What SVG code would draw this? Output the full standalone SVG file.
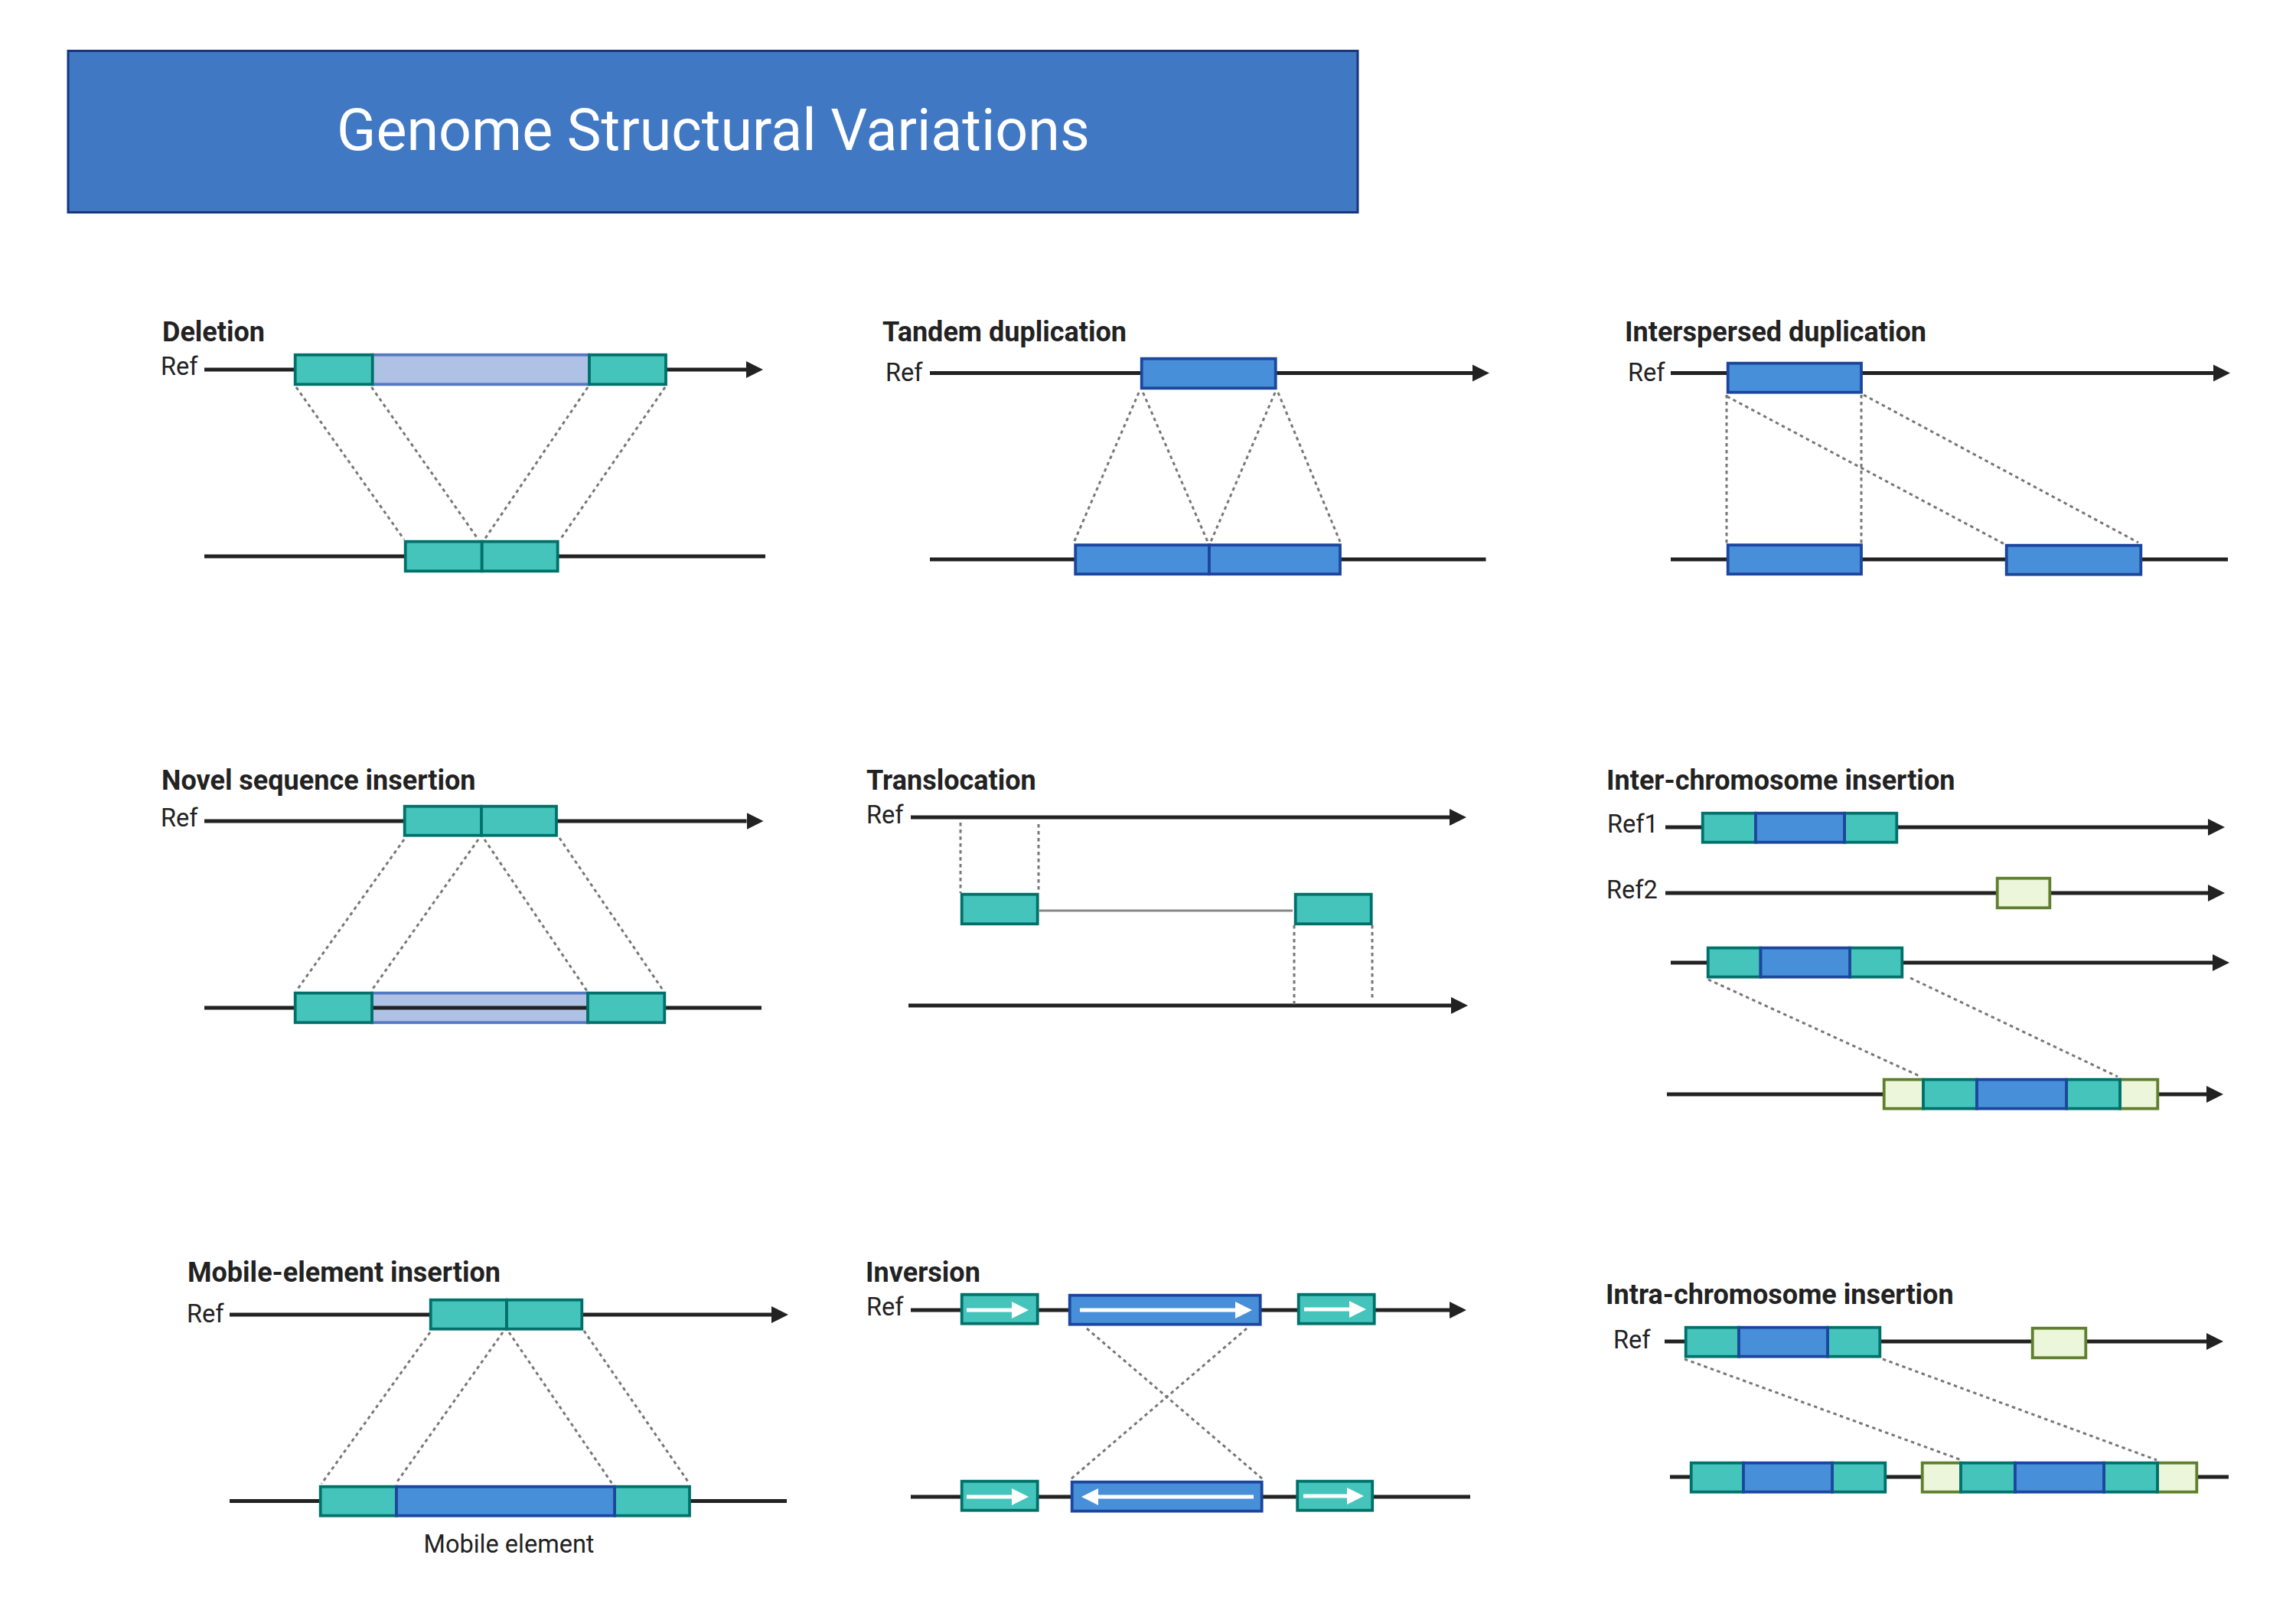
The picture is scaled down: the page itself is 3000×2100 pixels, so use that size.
<svg xmlns="http://www.w3.org/2000/svg" width="3000" height="2100" viewBox="0 0 3000 2100">
<style>
text{font-family:Roboto,"Liberation Sans",sans-serif;fill:#222}
.t{font-size:36px;font-weight:700}
.r{font-size:32.500px}
.l{stroke:#222;stroke-width:5;fill:none}
.a{marker-end:url(#ah)}
.d{stroke:#777;stroke-width:3;stroke-dasharray:4.500 4.500;fill:none}
.th{stroke:#888;stroke-width:2.800;fill:none}
rect{stroke-width:3.800}
.te{fill:#45c4bb;stroke:#00716a}
.bl{fill:#478fd8;stroke:#1c469d}
.gr{fill:#ebf6da;stroke:#5f7f2c}
.lb{fill:#afc2e6;stroke:#5578c2}
.w{stroke:#fff;stroke-width:5;fill:none;marker-end:url(#wh)}
</style>
<defs>
<marker id="ah" markerUnits="userSpaceOnUse" markerWidth="23" markerHeight="24" refX="0" refY="12" orient="auto" viewBox="0 0 23 24"><path d="M0 1L22 12L0 23Z" fill="#222"/></marker>
<marker id="wh" markerUnits="userSpaceOnUse" markerWidth="23" markerHeight="24" refX="0" refY="12" orient="auto" viewBox="0 0 23 24"><path d="M0 1L22 12L0 23Z" fill="#fff"/></marker>
</defs>
<rect width="3000" height="2100" fill="#fff" style="stroke:none"/>
<g id="title"><rect x="89" y="66.500" width="1685" height="211" fill="#4178c3" stroke="#17357f" style="stroke-width:3"/><text x="932" y="196" text-anchor="middle" font-size="75.400" style="fill:#fff">Genome Structural Variations</text></g>
<g id="novel-insert-band"><rect class="lb" x="486" y="1297.700" width="282" height="38.600"/></g>
<g id="connectors">
<path class="l a" d="M267 483H975"/><path class="l" d="M267 727H1000"/>
<path class="d" d="M387 506L528 705M485.500 506L625 705M768 506L633 705M869 506L732 705"/>
<path class="l a" d="M1215 487.500H1924"/><path class="l" d="M1215 731H1941.500"/>
<path class="d" d="M1488 513L1403.500 708M1493.500 513L1578 708M1666 513L1582 708M1670 513L1751 708"/>
<path class="l a" d="M2183 487.500H2892"/><path class="l" d="M2183 731H2911"/>
<path class="d" d="M2256 516V710M2432 516V710M2256.500 518L2619 711M2435 516L2794 709"/>
<path class="l a" d="M267 1073H975.500"/><path class="l" d="M267 1317H995"/>
<path class="d" d="M528 1097L387 1295M625 1097L485 1295M633 1097L767 1295M731 1095L867 1295"/>
<path class="l a" d="M1190 1068H1894"/><path class="l a" d="M1187 1314H1896"/>
<path class="th" d="M1358 1190H1689"/>
<path class="d" d="M1255 1075V1167M1357 1077V1167M1691 1209V1315M1793 1209V1306"/>
<path class="l a" d="M2176 1081H2885"/><path class="l a" d="M2176 1167H2885"/><path class="l a" d="M2183 1258H2891"/><path class="l a" d="M2178 1430H2883"/>
<path class="d" d="M2232 1280L2510 1407M2496 1278L2767 1407"/>
<path class="l a" d="M300 1718H1008"/><path class="l" d="M300 1961.500H1028"/>
<path class="d" d="M562 1741L420 1939M657 1741L517 1939M665 1741L800 1939M763 1739L901 1939"/>
<path class="l a" d="M1190 1712H1894"/><path class="l" d="M1190 1956H1921"/>
<path class="d" d="M1420 1736L1650 1933M1629 1736L1399 1933"/>
<path class="l a" d="M2175 1753H2883"/><path class="l" d="M2182 1930H2912"/>
<path class="d" d="M2201 1776L2563 1908M2460 1776L2818 1908"/>
</g>
<g id="deletion"><text class="t" x="212" y="446">Deletion</text><text class="r" x="210" y="490">Ref</text>
<rect class="lb" x="486" y="463.700" width="284" height="38.600"/>
<rect class="te" x="385.700" y="463.700" width="101" height="38.600"/><rect class="te" x="770" y="463.700" width="100" height="38.600"/>
<rect class="te" x="529.700" y="707.700" width="100" height="38.600"/><rect class="te" x="629.700" y="707.700" width="99" height="38.600"/></g>
<g id="tandem-duplication"><text class="t" x="1153" y="446">Tandem duplication</text><text class="r" x="1157" y="498">Ref</text>
<rect class="bl" x="1491.700" y="468.700" width="175" height="38.600"/>
<rect class="bl" x="1405.200" y="712.200" width="174.800" height="38"/><rect class="bl" x="1580" y="712.200" width="171" height="38"/></g>
<g id="interspersed-duplication"><text class="t" x="2123" y="446">Interspersed duplication</text><text class="r" x="2127" y="498">Ref</text>
<rect class="bl" x="2257.700" y="474.700" width="174.300" height="38"/>
<rect class="bl" x="2257.700" y="712.200" width="174.300" height="38"/><rect class="bl" x="2621.700" y="712.700" width="175.600" height="38"/></g>
<g id="novel-sequence-insertion"><text class="t" x="211" y="1032">Novel sequence insertion</text><text class="r" x="210" y="1080">Ref</text>
<rect class="te" x="528.700" y="1053.700" width="100.300" height="38"/><rect class="te" x="629" y="1053.700" width="98" height="38"/>
<rect class="te" x="385.700" y="1297.700" width="100.300" height="38.600"/><rect class="te" x="768" y="1297.700" width="100.300" height="38.600"/></g>
<g id="translocation"><text class="t" x="1132" y="1032">Translocation</text><text class="r" x="1132" y="1076">Ref</text>
<rect class="te" x="1256.700" y="1168.700" width="99" height="38.600"/><rect class="te" x="1692.700" y="1168.700" width="99" height="38.600"/></g>
<g id="inter-chromosome-insertion"><text class="t" x="2099" y="1032">Inter-chromosome insertion</text><text class="r" x="2100" y="1088">Ref1</text><text class="r" x="2099" y="1174">Ref2</text>
<rect class="te" x="2224.700" y="1062.700" width="69.300" height="38"/><rect class="te" x="2410" y="1062.700" width="68.300" height="38"/><rect class="bl" x="2294" y="1062.700" width="116" height="38"/>
<rect class="gr" x="2609.700" y="1147.700" width="68.600" height="38.600"/>
<rect class="te" x="2231.700" y="1238.700" width="68.800" height="38"/><rect class="te" x="2417" y="1238.700" width="68.300" height="38"/><rect class="bl" x="2300.500" y="1238.700" width="116.500" height="38"/>
<rect class="gr" x="2461.700" y="1410.700" width="51.300" height="38"/><rect class="gr" x="2770" y="1410.700" width="49.300" height="38"/>
<rect class="te" x="2513" y="1410.700" width="70" height="38"/><rect class="te" x="2700" y="1410.700" width="70" height="38"/><rect class="bl" x="2583" y="1410.700" width="117" height="38"/></g>
<g id="mobile-element-insertion"><text class="t" x="245" y="1675">Mobile-element insertion</text><text class="r" x="244" y="1728">Ref</text>
<rect class="te" x="562.700" y="1698.700" width="99.300" height="38"/><rect class="te" x="662" y="1698.700" width="98.300" height="38"/>
<rect class="te" x="418.700" y="1942.700" width="99.300" height="38"/><rect class="te" x="803" y="1942.700" width="98" height="38"/><rect class="bl" x="518" y="1942.700" width="285" height="38"/>
<text class="r" x="665" y="2029" text-anchor="middle">Mobile element</text></g>
<g id="inversion"><text class="t" x="1131" y="1675">Inversion</text><text class="r" x="1132" y="1719">Ref</text>
<rect class="te" x="1256.700" y="1691.700" width="99" height="38"/><rect class="bl" x="1397.700" y="1692.700" width="249" height="38"/><rect class="te" x="1696.700" y="1691.700" width="99" height="38"/>
<rect class="te" x="1256.700" y="1935.700" width="99" height="38"/><rect class="bl" x="1400.700" y="1936.700" width="248" height="38"/><rect class="te" x="1695.200" y="1935.700" width="98" height="38"/>
<path class="w" d="M1263 1712H1322"/><path class="w" d="M1411 1712H1614"/><path class="w" d="M1704 1711H1763"/>
<path class="w" d="M1263 1956H1322"/><path class="w" d="M1638 1956H1435"/><path class="w" d="M1703 1955H1760"/></g>
<g id="intra-chromosome-insertion"><text class="t" x="2098" y="1704">Intra-chromosome insertion</text><text class="r" x="2108" y="1762">Ref</text>
<rect class="te" x="2202.700" y="1734.700" width="69.300" height="38"/><rect class="te" x="2388" y="1734.700" width="68.300" height="38"/><rect class="bl" x="2272" y="1734.700" width="116" height="38"/>
<rect class="gr" x="2655.700" y="1735.700" width="69.600" height="38.600"/>
<rect class="te" x="2209.700" y="1911.700" width="68.300" height="38"/><rect class="te" x="2394" y="1911.700" width="69.300" height="38"/><rect class="bl" x="2278" y="1911.700" width="116" height="38"/>
<rect class="gr" x="2511.700" y="1911.700" width="50.300" height="38"/><rect class="gr" x="2819" y="1911.700" width="51.300" height="38"/>
<rect class="te" x="2562" y="1911.700" width="71" height="38"/><rect class="te" x="2749" y="1911.700" width="70" height="38"/><rect class="bl" x="2633" y="1911.700" width="116" height="38"/></g>
</svg>
